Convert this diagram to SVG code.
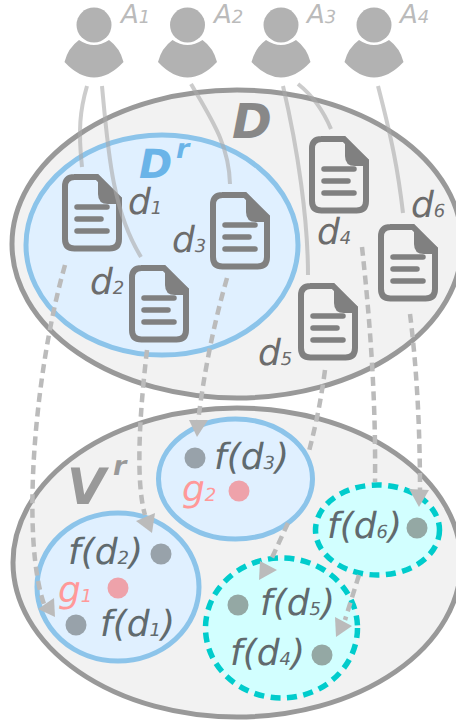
<svg xmlns="http://www.w3.org/2000/svg" width="456" height="725" viewBox="0 0 456 725">
<style>
text{font-family:"DejaVu Sans",sans-serif;font-style:italic;text-rendering:geometricPrecision}
.a{font-size:26px;fill:#bbb}
.d{font-size:36px;fill:#6c6c6c}
.f{font-size:36px;fill:#606a6e}
.g{font-size:36px;fill:#f99}
.s{font-size:18px}
.big{font-weight:bold;font-size:48px;fill:#888}
.sup{font-weight:bold;font-size:27px}
.outer{fill:#f2f2f2;stroke:#999;stroke-width:5}
.blue{fill:#e0f0ff;stroke:#8cc4ea;stroke-width:5}
.teal{fill:#d2ffff;stroke:#00cccc;stroke-width:5.500;stroke-dasharray:10 6.500}
.dot{fill:#98a2aa}
.tdot{fill:#94a8a4}
.pink{fill:#eea2aa}
.solid{fill:none;stroke:#aaa;stroke-opacity:.6;stroke-width:4}
.dash{fill:none;stroke:#bbb;stroke-width:4.500;stroke-dasharray:9 5.500}
.head{fill:#bbb}
</style>
<defs>
<g id="user"><circle cx="0" cy="25" r="17.500" fill="#b2b2b2"/><path d="M-15 40Q0 50 15 40Q26 48 29.500 62Q15 77.500 0 77.500Q-15 77.500-29.500 62Q-26 48-15 40Z" fill="#b2b2b2"/></g>
<g id="doc"><path d="M12 3H35L57 25V65Q57 74.500 47.500 74.500H12.500Q3 74.500 3 65V12.500Q3 3 12.500 3Z" fill="none" stroke="#808080" stroke-width="6"/><path d="M36 2L60 24V30H46Q36 30 36 20Z" fill="#808080"/><path d="M15 33H45M15 45H39M15 57H45" fill="none" stroke="#808080" stroke-width="5.500" stroke-linecap="round"/></g>
</defs>
<g id="set-D"><ellipse class="outer" cx="237" cy="244" rx="225" ry="154"/><text class="big" x="232" y="138">D</text></g>
<g id="set-Dr"><ellipse class="blue" cx="162" cy="245" rx="136" ry="110"/><text class="big" x="139" y="178" style="fill:#6ab4e8;font-size:40px">D</text><text class="sup" x="176" y="158" style="fill:#6ab4e8">r</text></g>
<g id="set-V"><ellipse class="outer" cx="237" cy="562.500" rx="224" ry="154.500"/><text class="big" x="67" y="504" style="fill:#999;font-size:50px">V</text><text class="sup" x="113" y="475" style="fill:#999">r</text></g>
<g id="user-A1"><use href="#user" x="94"/><text class="a" x="121" y="23">A<tspan class="s">1</tspan></text></g>
<g id="user-A2"><use href="#user" x="187.500"/><text class="a" x="214" y="23">A<tspan class="s">2</tspan></text></g>
<g id="user-A3"><use href="#user" x="281"/><text class="a" x="307" y="23">A<tspan class="s">3</tspan></text></g>
<g id="user-A4"><use href="#user" x="374"/><text class="a" x="400" y="23">A<tspan class="s">4</tspan></text></g>
<g id="doc-d1"><use href="#doc" x="62" y="174"/><text class="d" x="128" y="214">d<tspan class="s">1</tspan></text></g>
<g id="doc-d2"><use href="#doc" x="129" y="265"/><text class="d" x="90" y="294">d<tspan class="s">2</tspan></text></g>
<g id="doc-d3"><use href="#doc" x="210" y="192"/><text class="d" x="172" y="252">d<tspan class="s">3</tspan></text></g>
<g id="doc-d4"><use href="#doc" x="309" y="136"/><text class="d" x="317" y="244">d<tspan class="s">4</tspan></text></g>
<g id="doc-d5"><use href="#doc" x="298" y="283"/><text class="d" x="258" y="365">d<tspan class="s">5</tspan></text></g>
<g id="doc-d6"><use href="#doc" x="378" y="224"/><text class="d" x="411" y="217">d<tspan class="s">6</tspan></text></g>
<g id="group-2"><ellipse class="blue" cx="235.500" cy="479" rx="77" ry="60"/><circle class="dot" cx="195" cy="458" r="10.500"/><text class="f" x="214" y="469">f(d<tspan class="s">3</tspan>)</text><text class="g" x="182" y="501">g<tspan class="s">2</tspan></text><circle class="pink" cx="239" cy="491" r="10.500"/></g>
<g id="group-1"><ellipse class="blue" cx="118" cy="587" rx="81" ry="74"/><text class="f" x="68" y="564">f(d<tspan class="s">2</tspan>)</text><circle class="dot" cx="161" cy="554" r="10.500"/><text class="g" x="58" y="602">g<tspan class="s">1</tspan></text><circle class="pink" cx="118" cy="588" r="10.500"/><circle class="dot" cx="76" cy="625" r="10.500"/><text class="f" x="100" y="636">f(d<tspan class="s">1</tspan>)</text></g>
<g id="cluster-d6"><ellipse class="teal" cx="377.500" cy="530" rx="62" ry="45"/><text class="f" x="327" y="538">f(d<tspan class="s">6</tspan>)</text><circle class="tdot" cx="417" cy="528" r="10.500"/></g>
<g id="cluster-d5-d4"><ellipse class="teal" cx="281.500" cy="628" rx="76" ry="70"/><circle class="tdot" cx="238" cy="605" r="10.500"/><text class="f" x="260" y="615">f(d<tspan class="s">5</tspan>)</text><text class="f" x="230" y="665">f(d<tspan class="s">4</tspan>)</text><circle class="tdot" cx="322" cy="655" r="10.500"/></g>
<g id="connectors">
<path class="solid" d="M87 86C80 110 78 130 82 167"/>
<path class="solid" d="M102 86C108 150 112 210 141 257"/>
<path class="solid" d="M191 84C212 120 229 145 230 184"/>
<path class="solid" d="M283 86C298 150 308 220 308 275"/>
<path class="solid" d="M298 84C312 95 323 110 331 129"/>
<path class="solid" d="M378 86C392 140 398 170 403 213"/>
<path class="dash" d="M65 265C35 370 20 540 45 607"/>
<path class="dash" d="M147 350C140 410 135 480 145 515"/>
<path class="dash" d="M227 278C212 330 203 380 198 422"/>
<path class="dash" d="M325 370C321 400 316 425 308 455"/>
<path class="dash" d="M288 523L270 562"/>
<path class="dash" d="M362 247C370 320 376 400 375 482"/>
<path class="dash" d="M359 575L345 620"/>
<path class="dash" d="M410 314C417 370 420 430 420 492"/>
<polygon class="head" points="38,609 54,598 55,617"/>
<polygon class="head" points="136,521 155,513 152,533"/>
<polygon class="head" points="189,420 208,420 197,437"/>
<polygon class="head" points="409,489 429,490 419,507"/>
<polygon class="head" points="260,561 277,570 259,580"/>
<polygon class="head" points="335,617 352,626 336,637"/>
</g>
</svg>
